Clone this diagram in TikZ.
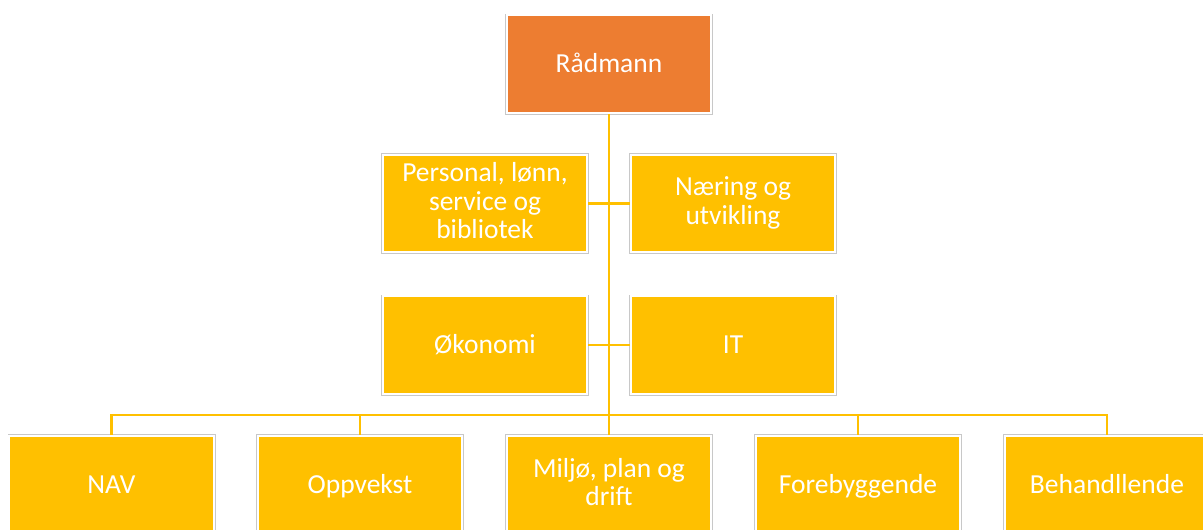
\documentclass[tikz,border=0pt]{standalone}
\usepackage{fontspec}
\setmainfont{Carlito}
\usepackage{tikz}
\usepackage{xcolor}
\definecolor{radorange}{RGB}{237,125,49}
\definecolor{unitgold}{RGB}{255,192,0}
\definecolor{rimgray}{RGB}{200,200,200}
\newcommand{\unitstrut}{\rule[-5.5pt]{0pt}{28.5pt}}

\begin{document}
\begin{tikzpicture}[x=1pt,y=-1pt,
    unit/.style={fill=unitgold, draw=white, line width=2pt,
        preaction={draw=rimgray, line width=3.5pt},
        minimum width=204.5pt, minimum height=97.5pt, inner sep=2pt,
        align=center, text=white, font=\fontsize{27.5}{28.5}\selectfont,
        execute at begin node={\unitstrut}, execute at end node={\unitstrut}},
    conn/.style={draw=unitgold, line width=2.8pt}]
        \useasboundingbox (0,0) rectangle (1203,530);
        \clip (0,0) rectangle (1203,530);

        % top
        \node[unit, fill=radorange] (rad) at (609,64) {Rådmann};

        % staff units
        \node[unit] (pers) at (485,203.5) {Personal, lønn,\\service og\\bibliotek};
        \node[unit] (naer) at (733,203.5) {Næring og\\utvikling};
        \node[unit] (oko) at (485,345) {Økonomi};
        \node[unit] (it) at (733,345) {IT};

        % line units
        \node[unit] (nav) at (111.5,484.5) {NAV};
        \node[unit] (opp) at (360,484.5) {Oppvekst};
        \node[unit] (milj) at (609,484.5) {Miljø, plan og\\drift};
        \node[unit] (fore) at (858,484.5) {Forebyggende};
        \node[unit] (beh) at (1107,484.5) {Behandllende};

        % connectors
        \coordinate (bus) at (609,415);
        \draw[conn] (pers.east) -- (naer.west);
        \draw[conn] (oko.east) -- (it.west);
        \draw[conn] (nav.north) |- (bus) -| (beh.north);
        \draw[conn] (opp.north) -- (opp.north |- bus);
        \draw[conn] (fore.north) -- (fore.north |- bus);
        \draw[conn] (rad.south) -- (milj.north);
    \end{tikzpicture}
\end{document}
